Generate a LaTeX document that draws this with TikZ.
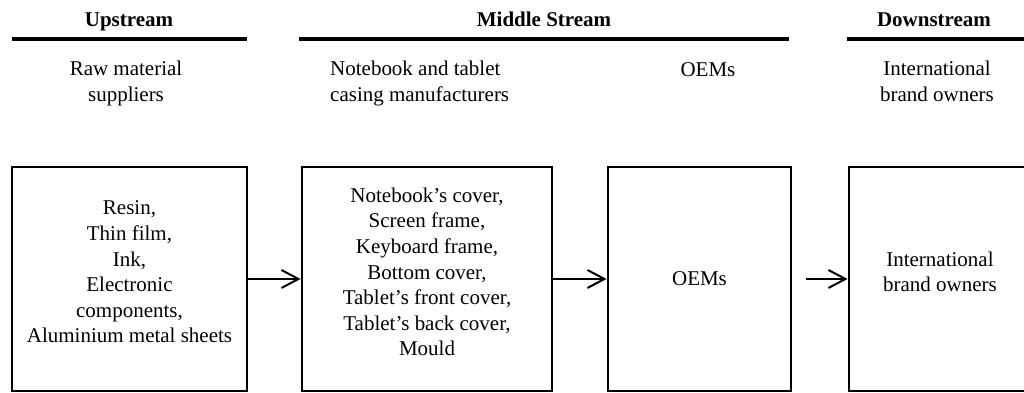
\documentclass[tikz,border=0pt]{standalone}
\usepackage{fontspec}
\setmainfont{Liberation Serif}
\usetikzlibrary{arrows.meta}

\begin{document}
\begin{tikzpicture}[
        box/.style={draw, line width=1.4pt, minimum height=3.938cm},
        boxtext/.style={align=center, font=\fontsize{10.5}{12.8}\selectfont},
        head/.style={anchor=base, font=\fontsize{10.5}{12.8}\selectfont\bfseries},
        sub/.style={align=center, font=\fontsize{10.5}{12.8}\selectfont},
        bar/.style={line width=2pt},
        flow/.style={line width=1pt, -{Straight Barb[length=8.5pt,width=9pt,line width=1pt]}}
    ]
        \clip (0,0) rectangle (18,6.908);

        % Upstream
        \node[head] (up) at (2.268,6.446) {Upstream};
        \draw[bar] (0.211,6.223) -- (4.342,6.223);
        \node[sub] (upsub) at (2.215,5.437) {Raw material\\suppliers};
        \node[box, minimum width=4.131cm] (raw) at (2.276,2.004) {};
        \node[boxtext] (rawtext) at ([yshift=3.5pt]raw.center)
            {Resin,\\Thin film,\\Ink,\\Electronic\\components,\\Aluminium metal sheets};

        % Middle stream
        \node[head] (mid) at (9.563,6.446) {Middle Stream};
        \draw[bar] (5.256,6.223) -- (13.869,6.223);
        \node[sub, align=left, anchor=west] (casingsub) at (5.68,5.437)
            {Notebook and tablet\\casing manufacturers};
        \node[sub, anchor=base] (oemsub) at (12.445,5.572) {OEMs};
        \node[box, minimum width=4.395cm] (casing) at (7.506,2.004) {};
        \node[boxtext] (casingtext) at ([yshift=3.5pt]casing.center)
            {Notebook's cover,\\Screen frame,\\Keyboard frame,\\Bottom cover,\\Tablet's front cover,\\Tablet's back cover,\\Mould};
        \node[box, minimum width=3.217cm] (oem) at (12.296,2.004) {};
        \node[boxtext] (oemtext) at (oem.center) {OEMs};

        % Downstream
        \node[head] (down) at (16.418,6.446) {Downstream};
        \draw[bar] (14.889,6.223) -- (18.1,6.223);
        \node[sub] (brandsub) at (16.471,5.48) {International\\brand owners};
        \node[box, minimum width=3.199cm] (brand) at (16.523,2.004) {};
        \node[boxtext] (brandtext) at ([yshift=3.5pt]brand.center)
            {International\\brand owners};

        % Flow
        \draw[flow] (raw) -- (casing);
        \draw[flow] (casing) -- (oem);
        \draw[flow, shorten <=7pt] (oem) -- (brand);

    \end{tikzpicture}
\end{document}
